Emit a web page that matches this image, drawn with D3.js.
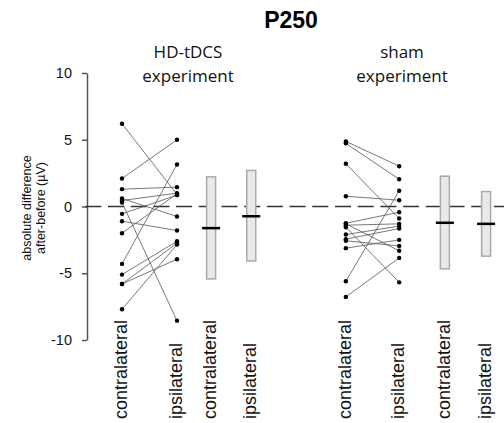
<!DOCTYPE html>
<html><head><meta charset="utf-8">
<script src="https://cdn.jsdelivr.net/npm/d3@7"></script>
<style>body{margin:0;background:#fff}svg{display:block}</style>
</head><body>
<svg id="chart" width="504" height="423"></svg>
<script>
// ---- data ----
const title = "P250";
const groupTitles = [["HD-tDCS", "experiment"], ["sham", "experiment"]];
const columnLabels = ["contralateral","ipsilateral","contralateral","ipsilateral","contralateral","ipsilateral","contralateral","ipsilateral"];
const columnSlots = [1, 2, 2.62, 3.35, 5.07, 6.04, 6.87, 7.62];
const yTicks = [10, 5, 0, -5, -10];

// paired individual values (µV)
const hdContra = [6.2, 2.1, 1.3, 0.6, 0.45, 0.3, -0.55, -1.1, -2.0, -4.3, -5.1, -5.8, -5.8, -7.7];
const hdIpsi   = [0.9, 5.0, 1.45, -0.75, 1.0, -8.55, 0.85, -1.8, 0.95, 3.15, -2.6, -2.75, -3.95, -2.85];
const shamContra = [4.88, 4.73, 3.2, 0.77, -5.6, -1.25, -1.4, -1.55, -2.1, -2.45, -2.57, -3.12, -6.77, -1.3];
const shamIpsi   = [3.02, 2.04, -0.9, 0.47, 1.18, -0.43, -1.3, -5.68, -1.47, -1.65, -2.95, -2.5, -3.85, -3.32];

// summary bars: mean, lower, upper
const barMeans = [-1.62, -0.73, -1.22, -1.30];
const barLower = [-5.42, -4.08, -4.67, -3.72];
const barUpper = [2.22, 2.70, 2.27, 1.12];

// ---- drawing ----
const svg = d3.select("#chart");
const x = d3.scaleLinear().domain([1, 2]).range([122, 177]);
const y = d3.scaleLinear().domain([-10, 10]).range([340, 73]);

// title
svg.append("text").attr("x", 291).attr("y", 28).attr("text-anchor", "middle")
  .attr("font-family", "Liberation Sans, Arial, sans-serif").attr("font-weight", "bold")
  .attr("font-size", 23).attr("fill", "#000").text(title);

// group titles
const gtX = [188, 402];
groupTitles.forEach((lines, i) => {
  lines.forEach((s, j) => {
    svg.append("text").attr("x", gtX[i]).attr("y", 58 + j * 23.5).attr("text-anchor", "middle")
      .attr("font-family", "Open Sans, sans-serif").attr("font-size", 17).attr("fill", "#111").text(s);
  });
});

// y axis
const axis = d3.axisLeft(y).tickValues(yTicks).tickSize(5).tickSizeOuter(0).tickFormat(d3.format("d"));
const ga = svg.append("g").attr("transform", "translate(87,0)").call(axis);
ga.select(".domain").attr("stroke", "#555").attr("stroke-width", 1.5);
ga.selectAll(".tick line").attr("stroke", "#555").attr("stroke-width", 1.5);
ga.selectAll(".tick text").attr("font-family", "Liberation Sans, Arial, sans-serif")
  .attr("font-size", 14.5).attr("fill", "#111").attr("x", -15).text(d => d < 0 ? "-" + Math.abs(d) : d);

// y label
const yl = svg.append("text").attr("transform", "translate(0,208) rotate(-90)")
  .attr("text-anchor", "middle").attr("font-family", "Liberation Sans, Arial, sans-serif")
  .attr("font-size", 12.5).attr("fill", "#111");
yl.append("tspan").attr("x", 0).attr("y", 31).text("absolute difference");
yl.append("tspan").attr("x", 0).attr("y", 45).text("after-before (µV)");

// zero dashed line
svg.append("line").attr("x1", 85.3).attr("x2", 504).attr("y1", y(0)).attr("y2", y(0))
  .attr("stroke", "#333").attr("stroke-width", 1.5).attr("stroke-dasharray", "16,6.7");

// paired lines + points
function paired(a, b, c0, c1) {
  const g = svg.append("g");
  a.forEach((v, i) => {
    g.append("line").attr("x1", x(columnSlots[c0])).attr("y1", y(v))
      .attr("x2", x(columnSlots[c1])).attr("y2", y(b[i]))
      .attr("stroke", "#555").attr("stroke-width", 0.8);
  });
  a.forEach(v => g.append("circle").attr("cx", x(columnSlots[c0])).attr("cy", y(v)).attr("r", 2.2).attr("fill", "#000"));
  b.forEach(v => g.append("circle").attr("cx", x(columnSlots[c1])).attr("cy", y(v)).attr("r", 2.2).attr("fill", "#000"));
}
paired(hdContra, hdIpsi, 0, 1);
paired(shamContra, shamIpsi, 4, 5);

// summary bars
const barCols = [2, 3, 6, 7];
barCols.forEach((c, i) => {
  const cx = x(columnSlots[c]);
  svg.append("rect").attr("x", cx - 4.5).attr("width", 9)
    .attr("y", y(barUpper[i])).attr("height", y(barLower[i]) - y(barUpper[i]))
    .attr("fill", "#e9e9e9").attr("stroke", "#aaa").attr("stroke-width", 1.5);
  svg.append("line").attr("x1", cx - 9).attr("x2", cx + 9)
    .attr("y1", y(barMeans[i])).attr("y2", y(barMeans[i]))
    .attr("stroke", "#000").attr("stroke-width", 2.5);
});

// column labels
columnLabels.forEach((t, i) => {
  svg.append("text").attr("transform", `translate(${x(columnSlots[i])},419) rotate(-90)`)
    .attr("dy", 5).attr("text-anchor", "start")
    .attr("font-family", "Liberation Sans, Arial, sans-serif").attr("font-size", 18)
    .attr("fill", "#111").text(t);
});
</script>
</body></html>
